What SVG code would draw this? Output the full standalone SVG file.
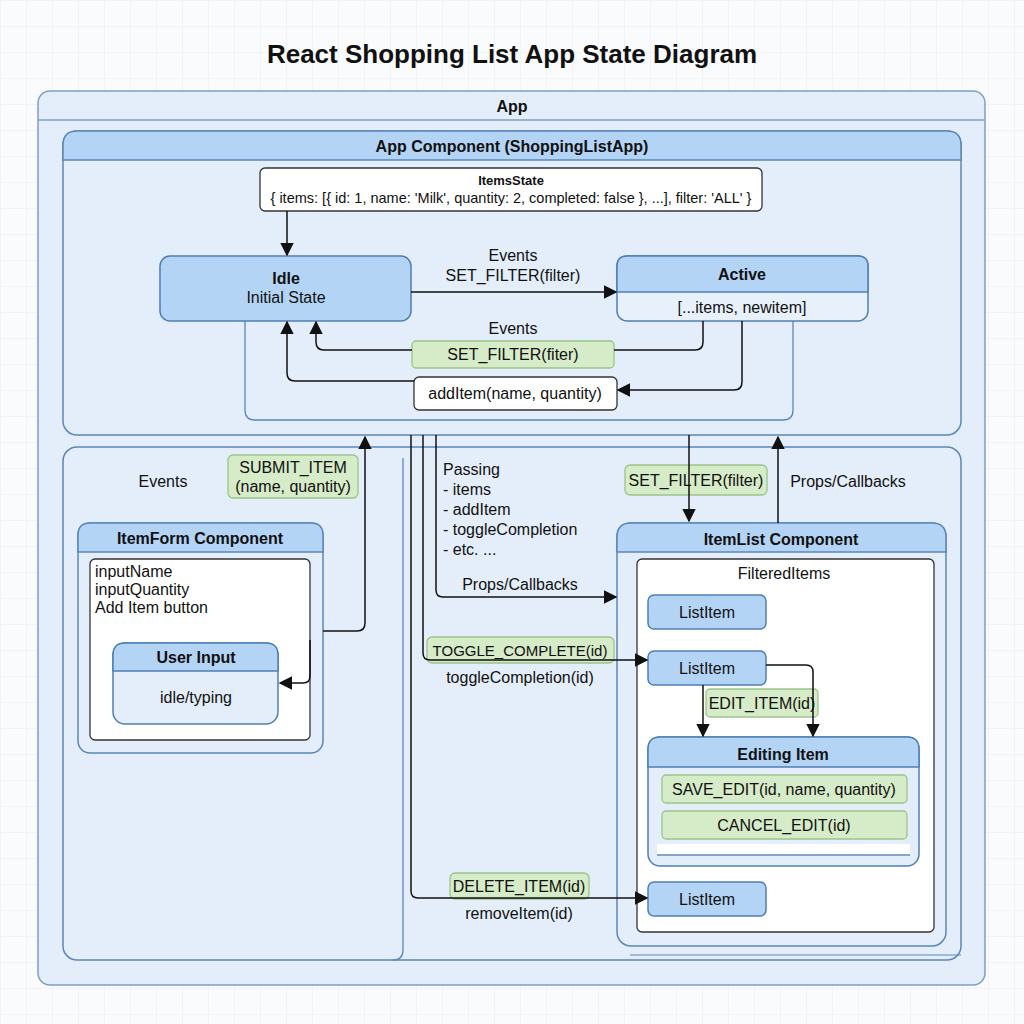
<svg xmlns="http://www.w3.org/2000/svg" width="1024" height="1024" viewBox="0 0 1024 1024">
<defs>
<pattern id="grid" width="26" height="26" patternUnits="userSpaceOnUse"><path d="M26 0H0V26" fill="none" stroke="#e8ecf1" stroke-width="1"/></pattern>
<marker id="ah" viewBox="0 0 10 10" refX="9" refY="5" markerWidth="9" markerHeight="9" orient="auto-start-reverse"><path d="M0 0L10 5L0 10z" fill="#111"/></marker>
<style>
text{font-family:"Liberation Sans",Arial,sans-serif;fill:#111}
.t{font-size:16px;text-anchor:middle}
.b{font-weight:bold}
.l{font-size:16px}
.frame{fill:#e4eefa;stroke:#7d9fc4;stroke-width:1.5}
.hdr{fill:#b4d4f6;stroke:#5a87b8;stroke-width:1.5}
.box{fill:#ffffff;stroke:#333;stroke-width:1.3}
.node{fill:#b4d4f6;stroke:#4f7fb3;stroke-width:1.5}
.grn{fill:#d6ebc8;stroke:#9cc58a;stroke-width:1.3}
.c{fill:none;stroke:#111;stroke-width:1.5}
.thin{fill:none;stroke:#5a87b8;stroke-width:1.3}
</style>
</defs>
<rect width="1024" height="1024" fill="#fafbfd"/>
<rect width="1024" height="1024" fill="url(#grid)"/>
<text x="512" y="63" class="b" style="font-size:26px;text-anchor:middle">React Shopping List App State Diagram</text>

<g id="app">
<rect x="38" y="91" width="947" height="894" rx="12" class="frame"/>
<path d="M38 120H985" stroke="#7d9fc4" stroke-width="1.5"/>
<text x="512" y="112" class="t b">App</text>
</g>

<g id="appComponent">
<rect x="63" y="131" width="898" height="304" rx="14" fill="#e4eefa" stroke="#5a87b8" stroke-width="1.5"/>
<path d="M63 160V145Q63 131 77 131H947Q961 131 961 145V160Z" class="hdr"/>
<text x="512" y="152" class="t b">App Component (ShoppingListApp)</text>
<path d="M245 321V410Q245 420 255 420H783Q793 420 793 410V321" class="thin"/>
</g>

<g id="itemsState">
<rect x="260" y="168" width="502" height="43" rx="5" class="box"/>
<text x="511" y="185" class="b" style="font-size:13px;text-anchor:middle">ItemsState</text>
<text x="511" y="203" style="font-size:14.5px;text-anchor:middle">{ items: [{ id: 1, name: 'Milk', quantity: 2, completed: false }, ...], filter: 'ALL' }</text>
</g>

<g id="idle">
<rect x="160" y="256" width="251" height="65" rx="10" class="node"/>
<text x="286" y="284" class="t b">Idle</text>
<text x="286" y="303" class="t">Initial State</text>
</g>

<g id="active">
<rect x="617" y="256" width="251" height="65" rx="10" fill="#e8f1fb" stroke="#4f7fb3" stroke-width="1.5"/>
<path d="M617 292V266Q617 256 627 256H858Q868 256 868 266V292Z" class="node"/>
<text x="742" y="280" class="t b">Active</text>
<text x="742" y="313" class="t">[...items, newitem]</text>
</g>

<g id="setFilterBack"><rect x="412" y="341" width="202" height="27" rx="4" class="grn"/><text x="513" y="360" class="t">SET_FILTER(fiter)</text></g>
<g id="addItem"><rect x="414" y="377" width="203" height="33" rx="5" class="box"/><text x="515" y="399" class="t">addItem(name, quantity)</text></g>

<g id="lowerPanel">
<rect x="63" y="447" width="898" height="513" rx="14" fill="#e4eefa" stroke="#5a87b8" stroke-width="1.5"/>
<path d="M403 458V950Q403 960 393 960" class="thin"/>
</g>

<g id="submitItem"><rect x="228" y="455" width="130" height="43" rx="5" class="grn"/><text x="293" y="473" class="t">SUBMIT_ITEM</text><text x="293" y="492" class="t">(name, quantity)</text></g>

<g id="itemForm">
<rect x="78" y="523" width="245" height="230" rx="12" fill="#e4eefa" stroke="#5a87b8" stroke-width="1.5"/>
<path d="M78 552V535Q78 523 90 523H311Q323 523 323 535V552Z" class="hdr"/>
<text x="200" y="544" class="t b">ItemForm Component</text>
<rect x="90" y="559" width="220" height="181" rx="5" class="box"/>
<text x="95" y="577" class="l">inputName</text>
<text x="95" y="595" class="l">inputQuantity</text>
<text x="95" y="613" class="l">Add Item button</text>
</g>

<g id="userInput">
<rect x="113" y="643" width="165" height="81" rx="12" fill="#e4eefa" stroke="#4f7fb3" stroke-width="1.5"/>
<path d="M113 671V655Q113 643 125 643H266Q278 643 278 655V671Z" class="node"/>
<text x="196" y="663" class="t b">User Input</text>
<text x="196" y="703" class="t">idle/typing</text>
</g>

<g id="setFilterDown"><rect x="625" y="465" width="142" height="30" rx="5" class="grn"/><text x="696" y="486" class="t">SET_FILTER(filter)</text></g>
<g id="toggleComplete"><rect x="427" y="637" width="187" height="26" rx="5" class="grn"/><text x="520" y="656" style="font-size:15px;text-anchor:middle">TOGGLE_COMPLETE(id)</text></g>
<g id="deleteItem"><rect x="450" y="873" width="139" height="26" rx="5" class="grn"/><text x="519" y="892" class="t">DELETE_ITEM(id)</text></g>

<g id="itemList">
<path d="M630 955H961" stroke="#5a87b8" stroke-width="1.2"/>
<rect x="617" y="523" width="329" height="423" rx="14" fill="#e4eefa" stroke="#5a87b8" stroke-width="1.5"/>
<path d="M617 552V537Q617 523 631 523H932Q946 523 946 537V552Z" class="hdr"/>
<text x="781" y="545" class="t b">ItemList Component</text>
<rect x="637" y="559" width="297" height="373" rx="5" class="box"/>
<text x="784" y="579" class="t">FilteredItems</text>
</g>

<g id="listItem1"><rect x="648" y="595" width="118" height="34" rx="6" class="node"/><text x="707" y="618" class="t">ListItem</text></g>
<g id="listItem2"><rect x="648" y="651" width="118" height="34" rx="6" class="node"/><text x="707" y="674" class="t">ListItem</text></g>
<g id="listItem3"><rect x="648" y="882" width="118" height="34" rx="6" class="node"/><text x="707" y="905" class="t">ListItem</text></g>
<g id="editItemLabel"><rect x="706" y="689" width="112" height="28" rx="4" class="grn"/><text x="762" y="709" class="t">EDIT_ITEM(id)</text></g>

<g id="editingItem">
<rect x="648" y="737" width="271" height="129" rx="12" fill="#e4eefa" stroke="#4f7fb3" stroke-width="1.5"/>
<path d="M648 767V749Q648 737 660 737H907Q919 737 919 749V767Z" class="node"/>
<text x="783" y="760" class="t b">Editing Item</text>
<rect x="662" y="775" width="245" height="28" rx="4" class="grn"/><text x="784" y="795" class="t">SAVE_EDIT(id, name, quantity)</text>
<rect x="662" y="811" width="245" height="28" rx="4" class="grn"/><text x="784" y="831" class="t">CANCEL_EDIT(id)</text>
<rect x="657" y="844" width="253" height="12" fill="#fff"/>
<path d="M657 855H910" stroke="#5a87b8" stroke-width="1.3"/>
</g>

<g id="labels">
<text x="513" y="261" class="t">Events</text>
<text x="513" y="281" class="t">SET_FILTER(filter)</text>
<text x="513" y="334" class="t">Events</text>
<text x="163" y="487" class="t">Events</text>
<text x="443" y="475" class="l">Passing</text>
<text x="443" y="495" class="l">- items</text>
<text x="443" y="515" class="l">- addItem</text>
<text x="443" y="535" class="l">- toggleCompletion</text>
<text x="443" y="555" class="l">- etc. ...</text>
<text x="520" y="590" class="t">Props/Callbacks</text>
<text x="848" y="487" class="t">Props/Callbacks</text>
<text x="520" y="683" class="t">toggleCompletion(id)</text>
<text x="519" y="919" class="t">removeItem(id)</text>
</g>

<g id="connectors">
<path d="M287 211V255" class="c" marker-end="url(#ah)"/>
<path d="M411 292H616" class="c" marker-end="url(#ah)"/>
<path d="M703 321V342Q703 350 695 350H614M412 350H324Q316 350 316 342V322" class="c" marker-end="url(#ah)"/>
<path d="M742 321V382Q742 390 734 390H618" class="c" marker-end="url(#ah)"/>
<path d="M414 381H295Q287 381 287 373V322" class="c" marker-end="url(#ah)"/>
<path d="M323 631H357Q365 631 365 623V437" class="c" marker-end="url(#ah)"/>
<path d="M310 640V676Q310 683 303 683H280" class="c" marker-end="url(#ah)"/>
<path d="M436 435V590Q436 597 443 597H616" class="c" marker-end="url(#ah)"/>
<path d="M423 435V653Q423 660 430 660H647" class="c" marker-end="url(#ah)"/>
<path d="M411 435V891Q411 898 418 898H647" class="c" marker-end="url(#ah)"/>
<path d="M689 435V521" class="c" marker-end="url(#ah)"/>
<path d="M778 523V437" class="c" marker-end="url(#ah)"/>
<path d="M703 685V736" class="c" marker-end="url(#ah)"/>
<path d="M766 665H806Q813 665 813 672V736" class="c" marker-end="url(#ah)"/>
</g>
</svg>
